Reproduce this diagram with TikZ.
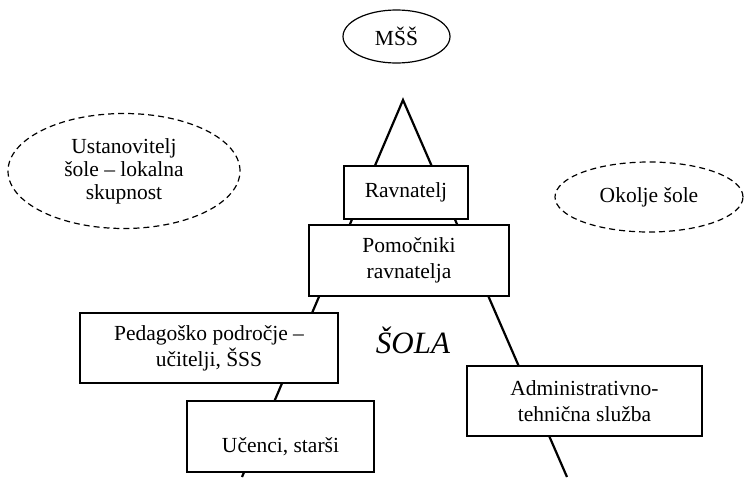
\documentclass[tikz,border=0pt]{standalone}
\usepackage{fontspec}
\setmainfont{Liberation Serif}
\usetikzlibrary{shapes.geometric}
\begin{document}
\begin{tikzpicture}[x=1pt,y=-1pt,
  txt/.style={font=\fontsize{21.5}{26}\selectfont, align=center},
  box/.style={txt, draw, line width=1.3pt, fill=white, inner sep=0pt},
  oval/.style={txt, ellipse, draw, line width=1.2pt, inner sep=0pt},
  dashoval/.style={oval, dash pattern=on 6pt off 4pt},
  edge/.style={line width=2.2pt, line join=miter}]
\useasboundingbox (0,0) rectangle (744,477);
% triangle
\coordinate (apex) at (403,100);
\coordinate (bl) at (242,477);
\coordinate (br) at (567,477);
\draw[edge] (bl) -- (apex) -- (br);
% top ellipse
\node[oval, minimum width=107pt, minimum height=53pt] (mss) at (396.5,36.5) {MŠŠ};
% dashed ellipses
\node[dashoval, font=\fontsize{21.5}{23}\selectfont, minimum width=232pt, minimum height=115pt] (ust) at (124,171) {Ustanovitelj\\šole – lokalna\\skupnost};
\node[dashoval, minimum width=188pt, minimum height=70pt] (ok) at (649,197) {Okolje šole};
% boxes
\node[box, minimum width=124pt, minimum height=53pt] (rav) at (406,192.5) {Ravnatelj};
\node[box, minimum width=200pt, minimum height=71pt] (pom) at (409,260.5) {Pomočniki\\ravnatelja};
\node[box, minimum width=258pt, minimum height=70pt] (ped) at (209,348) {Pedagoško področje –\\učitelji, ŠSS};
\node[box, minimum width=187pt, minimum height=71pt] (uc) at (280.5,436.5) {};
\node[txt, yshift=-10pt] (uct) at (uc.center) {Učenci, starši};
\node[box, minimum width=235pt, minimum height=70pt] (adm) at (584.5,401) {Administrativno-\\tehnična služba};
% label
\node[font=\fontsize{31}{33}\selectfont\itshape] (sola) at (413,340) {ŠOLA};
\end{tikzpicture}
\end{document}
